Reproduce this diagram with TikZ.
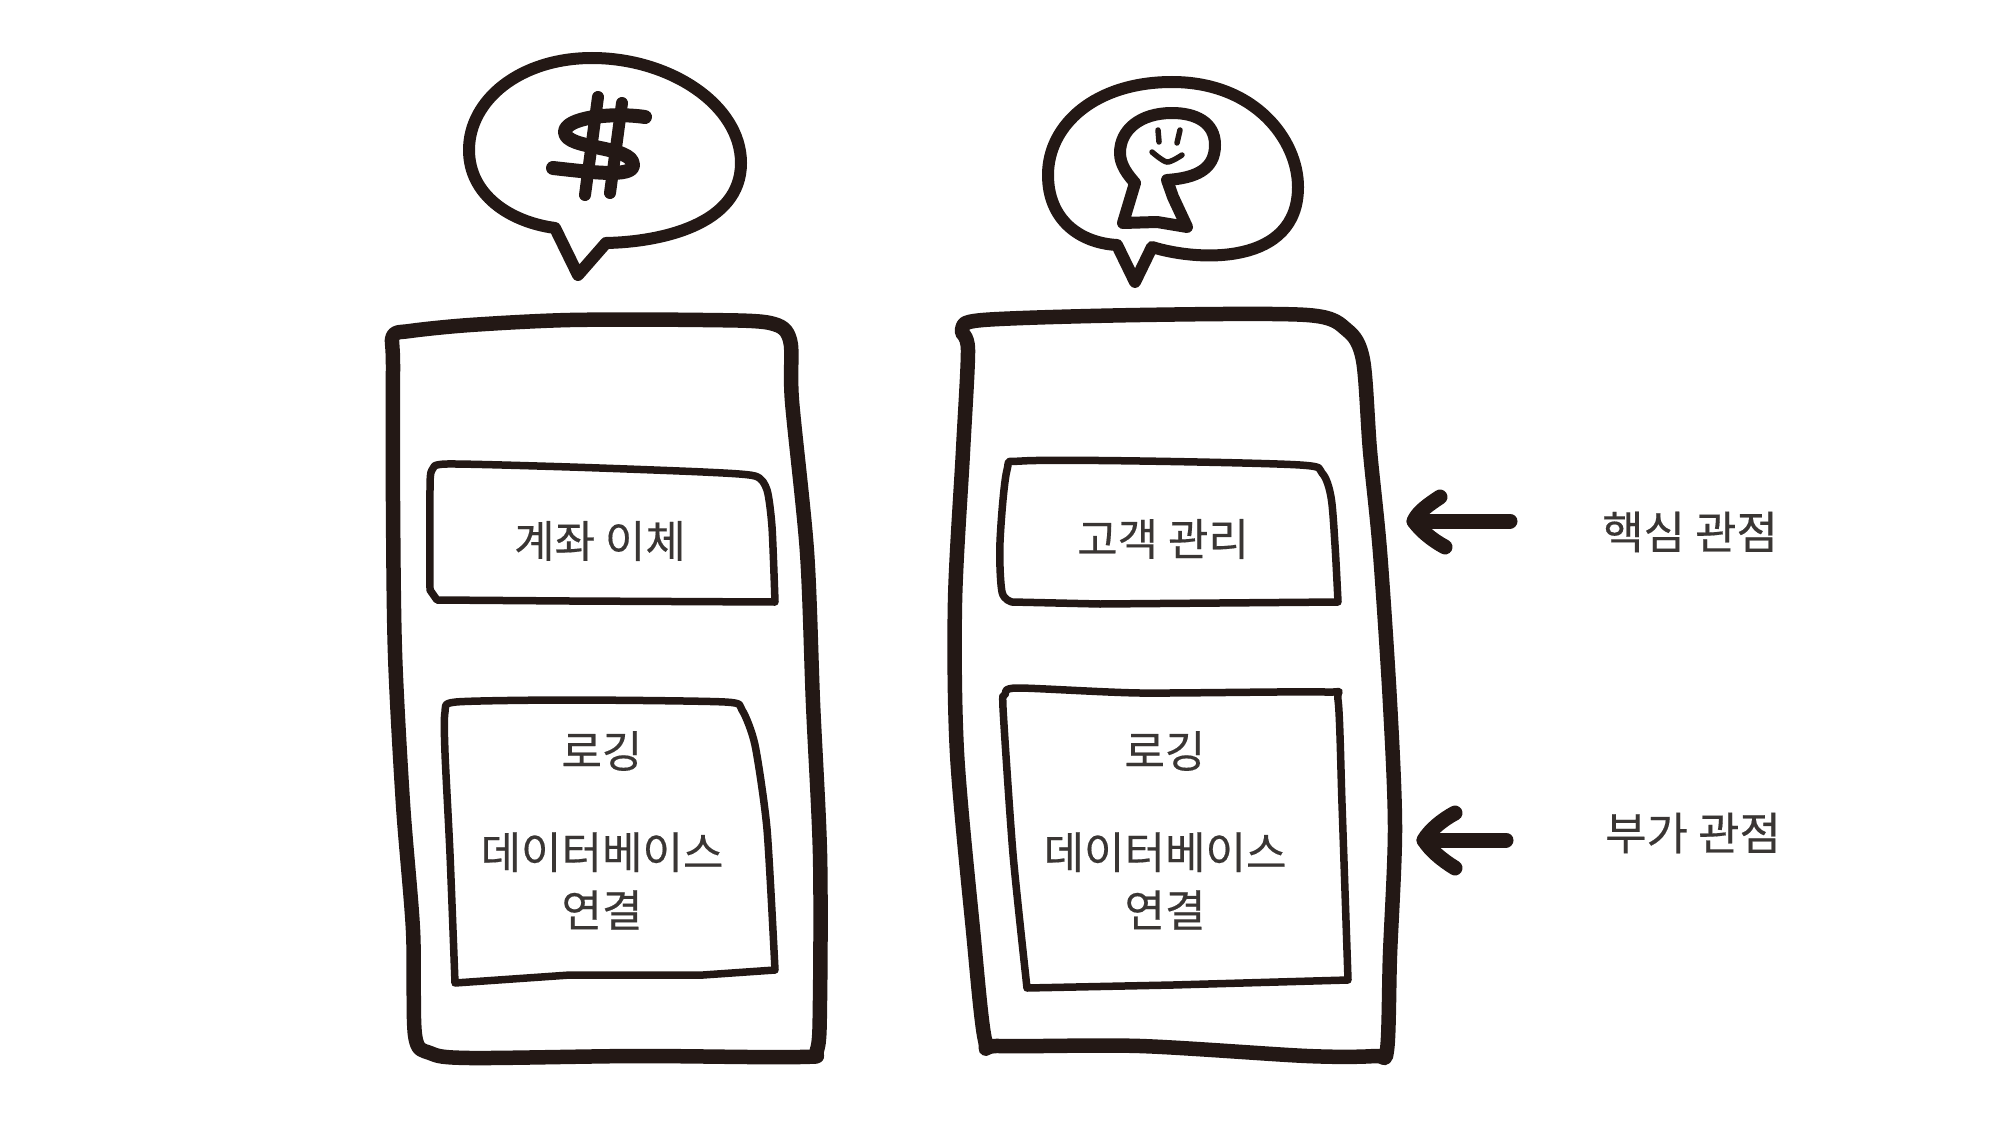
\documentclass[tikz,border=0pt]{standalone}
\usepackage{fontspec}
\setmainfont{Noto Sans CJK KR}[FakeBold=0.35]
\definecolor{ink}{HTML}{231815}
\definecolor{txt}{HTML}{3A3634}
\tikzset{
  outerbox/.style={draw=ink,line width=14.5pt,line join=round,line cap=round},
  innerbox/.style={draw=ink,line width=7.5pt,line join=round,line cap=round},
  bubble/.style={draw=ink,line width=12pt,line join=round,line cap=round},
  glyphline/.style={draw=ink,line width=12pt,line join=round,line cap=round},
  fineline/.style={draw=ink,line width=5.5pt,line cap=round},
  pointer/.style={draw=ink,line width=15pt,line join=round,line cap=round},
  label/.style={text=txt,font=\fontsize{44}{58}\selectfont,inner sep=0pt,align=center},
  side/.style={text=txt,font=\fontsize{45}{58}\selectfont,inner sep=0pt}
}
\begin{document}
\begin{tikzpicture}[x=1pt,y=-1pt]
\useasboundingbox (0,0) rectangle (2000,1121);
% left phone
\draw[outerbox] plot[smooth cycle,tension=.5] coordinates {(393,336)(410,331)(470,325)(570,320)(703,320)(770,323)(790,340)(792,401)(807,552)(813,703)(820,854)(820,1000)(817,1050)(800,1057)(637,1056)(470,1058)(430,1053)(415,1035)(413,930)(403,804)(395,653)(393,502)(393,365)};
\draw[innerbox] plot[smooth,tension=.4] coordinates {(775,602)(772,527)(767,490)(755,476)(703,472)(570,467)(447,464)(432,470)(430,490)(430,590)} -- (437,600) -- (570,601) -- cycle;
\draw[innerbox] plot[smooth,tension=.4] coordinates {(455,983)(450,854)(445,753)(445,712)(456,702)(570,700)(725,702)(742,710)(755,745)(767,829)(775,970)} -- (703,975) -- (570,975) -- cycle;
% right phone
\draw[outerbox] plot[smooth cycle,tension=.5] coordinates {(962,330)(983,320)(1140,315)(1307,315)(1347,330)(1363,360)(1370,451)(1380,552)(1390,703)(1395,829)(1390,955)(1387,1050)(1375,1056)(1307,1056)(1140,1046)(1000,1046)(985,1040)(973,930)(957,753)(955,602)(963,451)(968,350)};
\draw[innerbox] plot[smooth,tension=.5] coordinates {(1338,602)(1335,545)(1331,497)(1322,473)(1300,465)(1140,461)(1022,461)(1007,470)(1000,542)(1002,592)(1012,602)} -- (1100,604) -- cycle;
\draw[innerbox] plot[smooth,tension=.4] coordinates {(1027,988)(1013,854)(1003,708)(1005,695)(1017,688)(1140,693)(1325,692)(1338,700)(1342,804)(1348,980)} -- (1173,985) -- cycle;
% left bubble with dollar sign
\draw[bubble] (606,243) .. controls (660,242) and (741,225) .. (741,163) .. controls (741,105) and (670,58) .. (592,58) .. controls (520,58) and (469,100) .. (469,150) .. controls (469,195) and (510,222) .. (555,228) -- (578,275) -- cycle;
\draw[glyphline,line width=14pt] (645,117) .. controls (610,112) and (565,118) .. (565,132) .. controls (565,150) and (633,145) .. (633,165) .. controls (633,178) and (590,172) .. (553,168);
\draw[glyphline] (598,97) -- (585,195);
\draw[glyphline] (622,103) -- (610,193);
% right bubble with keyhole figure
\draw[bubble] (1152,247) .. controls (1200,262) and (1298,265) .. (1298,187) .. controls (1298,140) and (1255,82) .. (1172,82) .. controls (1095,82) and (1048,125) .. (1048,175) .. controls (1048,220) and (1080,243) .. (1117,245) -- (1135,282) -- cycle;
\draw[glyphline] (1167,180) .. controls (1195,178) and (1215,170) .. (1215,145) .. controls (1215,122) and (1195,113) .. (1172,113) .. controls (1140,113) and (1120,130) .. (1120,153) .. controls (1120,165) and (1128,175) .. (1135,183) -- (1123,223) -- (1157,222) -- (1187,227) -- (1173,197) -- cycle;
\draw[fineline] (1158,130) -- (1159,142);
\draw[fineline] (1180,130) -- (1177,143);
\draw[fineline] plot[smooth] coordinates {(1152,152)(1167,162)(1182,155)};
% texts
\node[label] (transfer) at (600,541) {계좌 이체};
\node[label] (logleft) at (602,751) {로깅};
\node[label] (dbleft) at (602,881) {데이터베이스\\연결};
\node[label] (customer) at (1163,539) {고객 관리};
\node[label] (logright) at (1165,751) {로깅};
\node[label] (dbright) at (1165,881) {데이터베이스\\연결};
\node[side,anchor=west] (core) at (1602,532) {핵심 관점};
\node[side,anchor=west] (extra) at (1605,833) {부가 관점};
% pointers
\coordinate (coretip) at (1414,521);
\coordinate (coreup) at (1440,497);
\coordinate (coredown) at (1445,547);
\coordinate (extratip) at (1424,840);
\coordinate (extraup) at (1455,813);
\coordinate (extradown) at (1455,868);
\draw[pointer,shorten <=92pt] (core.west |- coretip) -- (coretip);
\draw[pointer] (coreup) .. controls (1428,505) and (1418,512) .. (coretip) .. controls (1420,530) and (1432,540) .. (coredown);
\draw[pointer,shorten <=99pt] (extra.west |- extratip) -- (extratip);
\draw[pointer] (extraup) .. controls (1442,820) and (1430,830) .. (extratip) .. controls (1430,850) and (1442,860) .. (extradown);
\end{tikzpicture}
\end{document}
